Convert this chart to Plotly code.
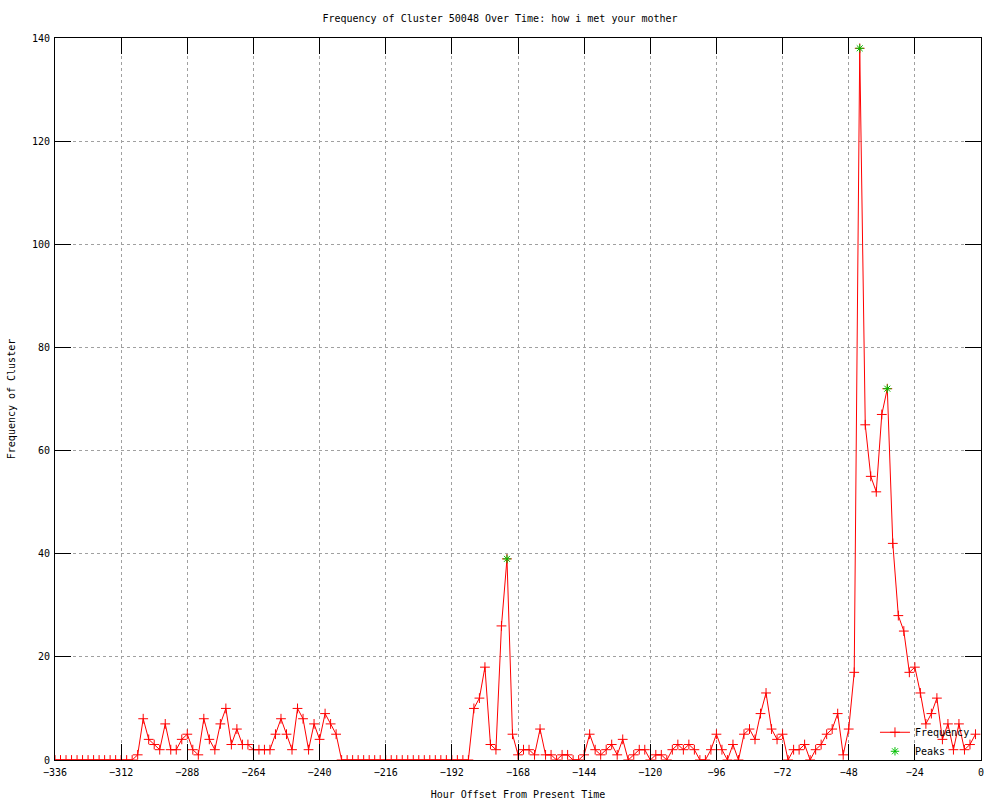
import plotly.graph_objects as go

# Hours from -336 to -2, every 2 hours
hours = list(range(-336, 0, 2))
freq = (
    [0] * 15
    + [1, 8, 4, 3, 2, 7, 2, 2, 4, 5, 2, 1, 8, 4, 2, 7, 10, 3, 6, 3,
       3, 2, 2, 2, 2, 5, 8, 5, 2, 10, 8, 2, 7, 4, 9, 7, 5]
    + [0] * 24
    + [10, 12, 18, 3, 2, 26, 39, 5,
       1, 2, 2, 1, 6, 1, 1, 0,
       1, 1, 0, 0, 1, 5, 2, 1,
       2, 3, 1, 4, 0, 1, 2, 2,
       0, 1, 1, 0, 2, 3, 2, 3,
       2, 0, 0, 2, 5, 2, 0, 3,
       0, 5, 6, 4, 9, 13, 6, 4,
       5, 0, 2, 2, 3, 0, 2, 3,
       5, 6, 9, 1, 6, 17, 138, 65,
       55, 52, 67, 72, 42, 28, 25, 17,
       18, 13, 7, 9, 12, 4, 7, 2,
       7, 2, 3, 5]
)
assert len(freq) == len(hours)

peak_hours = [-172, -44, -34]
peak_values = [39, 138, 72]

x_ticks = list(range(-336, 1, 24))
y_ticks = list(range(0, 141, 20))

font = "DejaVu Sans Mono"

fig = go.Figure()
fig.add_trace(go.Scatter(
    x=hours, y=freq, mode="lines+markers", name="Frequency",
    line=dict(color="#ff0000", width=1),
    marker=dict(symbol="cross-thin-open", size=7, line=dict(color="#ff0000", width=1), color="#ff0000"),
))
fig.add_trace(go.Scatter(
    x=peak_hours, y=peak_values, mode="markers", name="Peaks",
    marker=dict(symbol="asterisk-open", size=7, line=dict(color="#00c000", width=1), color="#00c000"),
))

axis_common = dict(
    showline=True, linecolor="black", linewidth=1, mirror="ticks",
    ticks="inside", ticklen=16, tickcolor="black", tickwidth=1,
    showgrid=True, gridcolor="#a0a0a0", griddash="dot", gridwidth=1,
    zeroline=False, tickfont=dict(family=font, size=10, color="black"),
    automargin=False,
)

fig.update_layout(
    width=1000, height=800,
    paper_bgcolor="white", plot_bgcolor="white",
    margin=dict(l=55, r=19, t=38, b=40),
    font=dict(family=font, size=10, color="black"),
    title=dict(text="Frequency of Cluster 50048 Over Time: how i met your mother",
               x=0.5, xanchor="center", y=0.977, yanchor="middle",
               font=dict(family=font, size=10, color="black")),
    xaxis=dict(range=[-336, 0], tickvals=x_ticks, ticklabelstandoff=3,
               title=dict(text="Hour Offset From Present Time", standoff=16,
                          font=dict(family=font, size=10)),
               **axis_common),
    yaxis=dict(range=[0, 140], tickvals=y_ticks, ticklabelstandoff=2,
               title=dict(text="Frequency of Cluster", standoff=14,
                          font=dict(family=font, size=10)),
               **axis_common),
    legend=dict(x=0.9935, y=-0.008, xanchor="right", yanchor="bottom",
                bgcolor="rgba(0,0,0,0)", font=dict(family=font, size=10),
                itemwidth=30, tracegroupgap=0),
    showlegend=True,
)

fig.write_html("out.html", config={"displayModeBar": False},
               post_script="document.body.style.margin='0';")
